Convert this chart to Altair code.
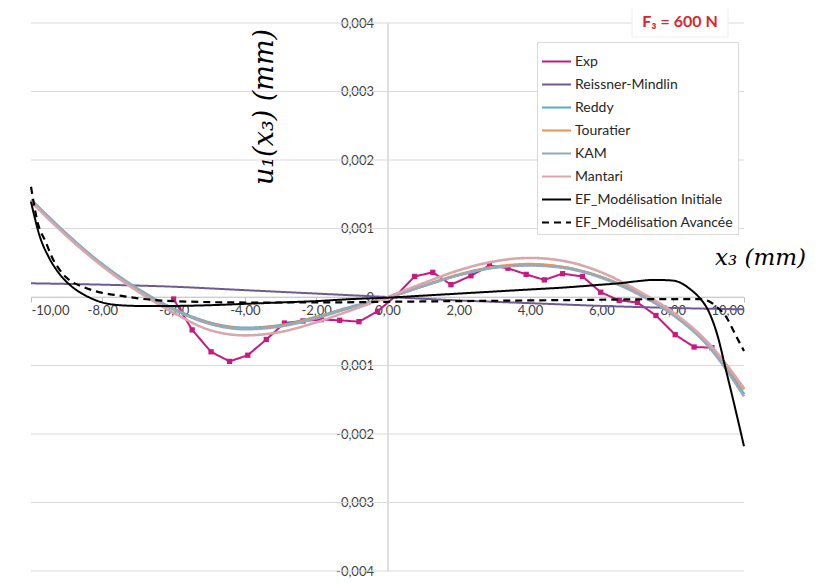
import altair as alt
import pandas as pd

# ---------------- data (values in 1e-3 mm) ----------------
SERIES = ["Exp", "Reissner-Mindlin", "Reddy", "Touratier", "KAM", "Mantari",
          "EF_Modélisation Initiale", "EF_Modélisation Avancée"]
COLORS = ["#c8197f", "#6f5b91", "#56aec4", "#ec9350", "#94aabd", "#d8a7ad",
          "#000000", "#000000"]

exp_x = [-6.0, -5.48, -4.95, -4.43, -3.92, -3.40, -2.89, -2.37, -1.86, -1.34, -0.80, -0.28,
         0.24, 0.76, 1.27, 1.78, 2.34, 2.86, 3.38, 3.89, 4.40, 4.91, 5.47, 5.98, 6.50, 7.01,
         7.53, 8.07, 8.60, 9.10]
exp_u = [-0.03, -0.48, -0.80, -0.94, -0.85, -0.62, -0.38, -0.35, -0.33, -0.34, -0.36, -0.21,
         0.02, 0.30, 0.36, 0.18, 0.31, 0.46, 0.42, 0.33, 0.25, 0.34, 0.30, 0.07, -0.05, -0.08,
         -0.27, -0.55, -0.73, -0.74]

rm_x = [-10, -8, -6, -4, -2, 0, 2, 4, 6, 8, 10]
rm_u = [0.20, 0.18, 0.15, 0.10, 0.05, 0.0, -0.05, -0.09, -0.13, -0.16, -0.18]

hsdt_x = [-10, -9, -8, -7, -6, -5, -4, -3, -2, -1, 0, 1, 2, 3, 4, 5, 6, 7, 8, 9, 10]
reddy_u = [1.42, 0.92, 0.48, 0.12, -0.17, -0.37, -0.45, -0.41, -0.29, -0.14, -0.01,
           0.16, 0.32, 0.43, 0.47, 0.43, 0.29, 0.07, -0.24, -0.70, -1.42]
touratier_u = [1.41, 0.91, 0.47, 0.11, -0.18, -0.38, -0.46, -0.42, -0.30, -0.15, -0.01,
               0.16, 0.33, 0.44, 0.48, 0.43, 0.29, 0.06, -0.25, -0.69, -1.35]
kam_u = [1.42, 0.92, 0.47, 0.11, -0.18, -0.39, -0.47, -0.43, -0.31, -0.15, -0.01,
         0.16, 0.32, 0.43, 0.46, 0.42, 0.28, 0.05, -0.26, -0.72, -1.45]
mantari_u = [1.39, 0.89, 0.45, 0.08, -0.23, -0.48, -0.56, -0.51, -0.37, -0.19, 0.00,
             0.20, 0.39, 0.52, 0.57, 0.52, 0.36, 0.10, -0.22, -0.67, -1.33]

efi_x = [-10, -9.75, -9.5, -9.25, -9.0, -8.75, -8.5, -8.0, -7.5, -7.0, -6.0, -5.0, -4.0,
         -3.0, -2.0, -1.0, 0.0, 1.0, 2.0, 3.0, 4.0, 5.0, 6.0, 6.5, 7.0, 7.5, 8.0, 8.25,
         8.5, 8.75, 9.0, 9.25, 9.5, 9.75, 10.0]
efi_u = [1.39, 0.88, 0.58, 0.37, 0.22, 0.11, 0.03, -0.08, -0.12, -0.13, -0.13, -0.12, -0.10,
         -0.08, -0.06, -0.03, -0.01, 0.02, 0.05, 0.08, 0.11, 0.14, 0.18, 0.20, 0.23, 0.25,
         0.24, 0.20, 0.11, -0.01, -0.20, -0.55, -1.08, -1.62, -2.18]

efa_x = [-10, -9.8, -9.6, -9.4, -9.2, -9.0, -8.5, -8.0, -7.5, -7.0, -6.0, -4.0, -2.0, 0.0,
         2.0, 4.0, 6.0, 8.0, 8.75, 9.0, 9.25, 9.5, 9.75, 10.0]
efa_u = [1.61, 1.06, 0.82, 0.57, 0.40, 0.28, 0.14, 0.06, 0.02, -0.02, -0.06, -0.08, -0.08,
         -0.07, -0.06, -0.05, -0.04, -0.03, -0.03, -0.06, -0.15, -0.29, -0.54, -0.79]

X_TICKS = [-10, -8, -6, -4, -2, 0, 2, 4, 6, 8, 10]
Y_TICKS = [-4, -3, -2, -1, 0, 1, 2, 3, 4]  # x 1e-3

# ---------------- build tables ----------------
series_data = [
    ("Exp", exp_x, exp_u),
    ("Reissner-Mindlin", rm_x, rm_u),
    ("Reddy", hsdt_x, reddy_u),
    ("Touratier", hsdt_x, touratier_u),
    ("KAM", hsdt_x, kam_u),
    ("Mantari", hsdt_x, mantari_u),
    ("EF_Modélisation Initiale", efi_x, efi_u),
    ("EF_Modélisation Avancée", efa_x, efa_u),
]
rows = []
for name, xs, us in series_data:
    for xv, uv in zip(xs, us):
        rows.append({"series": name, "x": xv, "u": uv / 1000.0})
df = pd.DataFrame(rows)
grid_df = pd.DataFrame({"u": [v / 1000.0 for v in Y_TICKS]})

W, H = 713, 548
FONT = "Lato"

xscale = alt.Scale(domain=[-10, 10], nice=False, zero=False)
yscale = alt.Scale(domain=[-0.004, 0.004], nice=False, zero=False)

xaxis = alt.Axis(title=None, offset=-H / 2, values=X_TICKS,
                 labelExpr="(datum.value < 0 ? '-' : '') + replace(format(abs(datum.value),'.2f'),'.',',')",
                 grid=False, domainColor="#bfbfbf", tickColor="#bfbfbf", tickSize=5,
                 labelFont=FONT, labelFontSize=13, labelColor="#404040", labelPadding=2)
yaxis = alt.Axis(title=None, offset=-W / 2, values=[v / 1000.0 for v in Y_TICKS],
                 labelExpr="abs(datum.value) < 1e-9 ? '0' : (datum.value < 0 ? '-' : '') + replace(format(abs(datum.value),'.3f'),'.',',')",
                 grid=False, ticks=False, domainColor="#bfbfbf",
                 labelFont=FONT, labelFontSize=13, labelColor="#404040", labelPadding=14)

color_scale = alt.Scale(domain=SERIES, range=COLORS)
dash_scale = alt.Scale(domain=SERIES, range=[[1, 0]] * 7 + [[7, 5]])
legend = alt.Legend(title=None, orient="none", legendX=506, legendY=19,
                    symbolType="stroke", symbolSize=841, symbolStrokeWidth=2,
                    labelFont=FONT, labelFontSize=14, labelColor="#262626",
                    fillColor="white", strokeColor="#d9d9d9", padding=4,
                    rowPadding=-8, labelOffset=3, labelLimit=300)

grid = alt.Chart(grid_df).mark_rule(color="#d9d9d9", strokeWidth=1).encode(
    y=alt.Y("u:Q", scale=yscale, axis=yaxis),
    x=alt.value(0), x2=alt.value(W))

widths = {"Exp": 2, "Reissner-Mindlin": 2, "Reddy": 2.6, "Touratier": 2.6, "KAM": 2.6,
          "Mantari": 2.6, "EF_Modélisation Initiale": 2, "EF_Modélisation Avancée": 2.2}

layers = [grid]
for name in SERIES:
    ln = alt.Chart(df).transform_filter(alt.datum.series == name).mark_line(
        strokeWidth=widths[name], interpolate="monotone" if name != "Exp" else "linear"
    ).encode(
        x=alt.X("x:Q", scale=xscale, axis=xaxis),
        y=alt.Y("u:Q", scale=yscale, axis=yaxis),
        color=alt.Color("series:N", scale=color_scale, legend=legend),
        strokeDash=alt.StrokeDash("series:N", scale=dash_scale, legend=legend),
    )
    layers.append(ln)
    if name == "Exp":
        pts = alt.Chart(df).transform_filter(alt.datum.series == name).mark_point(
            shape="square", filled=True, size=28, opacity=1, color=COLORS[0]
        ).encode(
            x=alt.X("x:Q", scale=xscale, axis=xaxis),
            y=alt.Y("u:Q", scale=yscale, axis=yaxis),
        )
        layers.append(pts)

# titles / annotation
ytitle = alt.Chart(pd.DataFrame({"t": ["u₁(x₃) (mm)"]})).mark_text(
    font="DejaVu Serif", fontStyle="italic", fontSize=27, angle=270, color="#000000"
).encode(text="t:N", x=alt.value(234), y=alt.value(84))
xtitle = alt.Chart(pd.DataFrame({"t": ["x₃ (mm)"]})).mark_text(
    font="DejaVu Serif", fontStyle="italic", fontSize=23, align="left", color="#000000"
).encode(text="t:N", x=alt.value(684), y=alt.value(235))
fbox = alt.Chart(pd.DataFrame({"t": ["F₃ = 600 N"]})).mark_rect(
    fill="white", stroke="#eeeeee", strokeWidth=1
).encode(x=alt.value(601), x2=alt.value(697), y=alt.value(-17), y2=alt.value(14))
ftext = alt.Chart(pd.DataFrame({"t": ["F₃ = 600 N"]})).mark_text(
    font=FONT, fontWeight="bold", fontSize=16, color="#d9262b"
).encode(text="t:N", x=alt.value(649), y=alt.value(-1))

chart = alt.layer(*layers, ytitle, xtitle, fbox, ftext).properties(
    width=W, height=H,
    padding={"left": 23, "top": 15, "right": 66, "bottom": 8},
    autosize=alt.AutoSizeParams(type="none"),
).configure_view(stroke=None)

chart.save("out.html", embed_options={"renderer": "svg", "actions": False})
